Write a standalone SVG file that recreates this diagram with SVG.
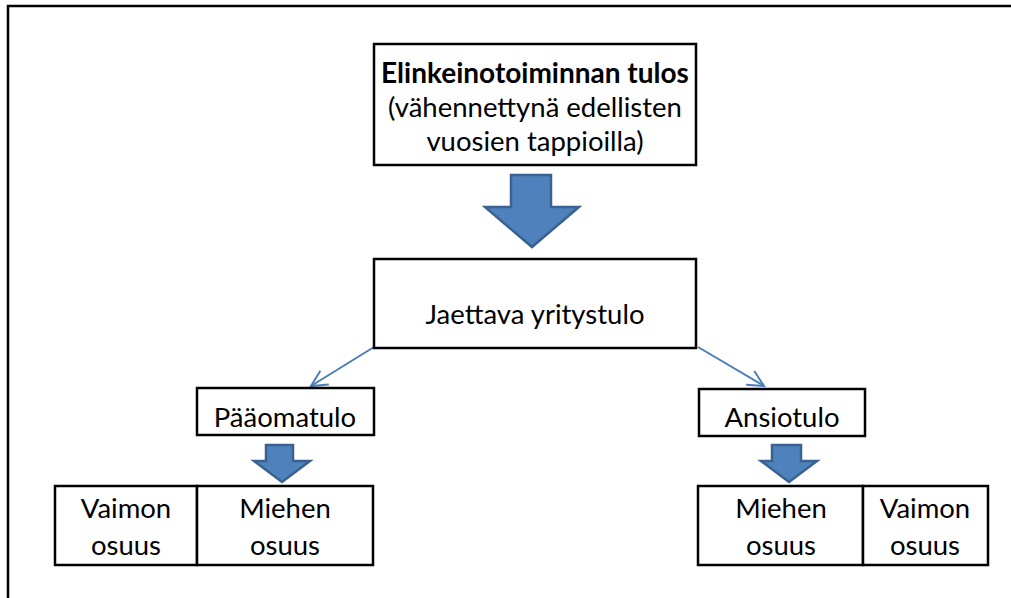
<svg xmlns="http://www.w3.org/2000/svg" width="1011" height="598" viewBox="0 0 1011 598">
<style>
.box{fill:#fff;stroke:#000;stroke-width:2.5}
.t{font-family:Lato,"Liberation Sans",sans-serif;font-size:27.5px;fill:#000;text-anchor:middle}
.b{font-weight:bold;font-size:28px}
.blk{fill:#4F81BD;stroke:#3A6190;stroke-width:2.5;stroke-linejoin:miter}
.con{fill:none;stroke:#4A7EBB;stroke-width:2}
</style>
<defs>
<marker id="open" viewBox="0 0 20 20" refX="18" refY="10" markerWidth="20" markerHeight="20" markerUnits="userSpaceOnUse" orient="auto">
<path d="M2,2 L18,10 L2,18" fill="none" stroke="#4A7EBB" stroke-width="2"/>
</marker>
</defs>
<rect width="1011" height="598" fill="#fff"/>
<path d="M8,598 V6 H1011" fill="none" stroke="#000" stroke-width="2.5"/>
<g id="connectors">
<line class="con" x1="374" y1="347" x2="311" y2="386" marker-end="url(#open)"/>
<line class="con" x1="698" y1="347" x2="764" y2="386" marker-end="url(#open)"/>
<path class="blk" d="M511,175 H551 V207 H579 L532,247 L485,207 H511 Z"/>
<path class="blk" d="M266,445 H293 V461 H310 L282,482 L254,461 H266 Z"/>
<path class="blk" d="M772,445 H801 V461 H817 L789,482 L761,461 H772 Z"/>
</g>
<g id="n-tulos">
<rect class="box" x="374" y="44" width="322" height="121"/>
<text class="t b" x="535" y="83">Elinkeinotoiminnan tulos</text>
<text class="t" x="535" y="117">(vähennettynä edellisten</text>
<text class="t" x="535" y="151">vuosien tappioilla)</text>
</g>
<g id="n-jaettava">
<rect class="box" x="374" y="259" width="322" height="89"/>
<text class="t" x="535" y="324">Jaettava yritystulo</text>
</g>
<g id="n-paaoma">
<rect class="box" x="197" y="388" width="177" height="47"/>
<text class="t" x="285" y="427">Pääomatulo</text>
</g>
<g id="n-ansio">
<rect class="box" x="699" y="389" width="166" height="47"/>
<text class="t" x="782" y="427">Ansiotulo</text>
</g>
<g id="n-left-vaimo">
<rect class="box" x="55" y="486" width="142" height="79"/>
<text class="t" x="126" y="518">Vaimon</text>
<text class="t" x="126" y="555">osuus</text>
</g>
<g id="n-left-mies">
<rect class="box" x="197" y="486" width="176" height="79"/>
<text class="t" x="285" y="518">Miehen</text>
<text class="t" x="285" y="555">osuus</text>
</g>
<g id="n-right-mies">
<rect class="box" x="698" y="486" width="165" height="79"/>
<text class="t" x="781" y="518">Miehen</text>
<text class="t" x="781" y="555">osuus</text>
</g>
<g id="n-right-vaimo">
<rect class="box" x="863" y="486" width="125" height="79"/>
<text class="t" x="925" y="518">Vaimon</text>
<text class="t" x="925" y="555">osuus</text>
</g>
</svg>
